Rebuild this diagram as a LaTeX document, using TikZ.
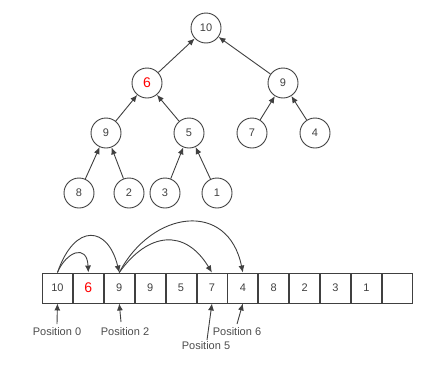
\documentclass[tikz,border=0pt]{standalone}
\usepackage{fontspec}
\setmainfont{Liberation Sans}
\usetikzlibrary{arrows.meta}
\begin{document}
\begin{tikzpicture}[x=1pt,y=-1pt,
  tn/.style={circle,draw=black!75,line width=0.9pt,minimum size=30pt,inner sep=0pt,font=\fontsize{11}{12}\selectfont,text=black!75},
  cell/.style={rectangle,draw=black!75,line width=0.9pt,minimum width=30pt,minimum height=30pt,inner sep=0pt,font=\fontsize{11}{12}\selectfont,text=black!75,anchor=west},
  ar/.style={draw=black!75,line width=0.9pt,-{Latex[length=7pt,width=6pt]}},
  lbl/.style={font=\fontsize{11}{12}\selectfont,text=black!70,inner sep=0pt}]
\useasboundingbox (0,0) rectangle (430,367);
% tree
\node[tn] (n10) at (206,28) {10};
\node[tn,text=red,font=\fontsize{14}{15}\selectfont] (n6) at (147,83) {6};
\node[tn] (n9r) at (283,83) {9};
\node[tn] (n9l) at (106,133) {9};
\node[tn] (n5) at (189,133) {5};
\node[tn] (n7) at (252,133) {7};
\node[tn] (n4) at (315,133) {4};
\node[tn] (n8) at (79,193) {8};
\node[tn] (n2) at (129,193) {2};
\node[tn] (n3) at (165,193) {3};
\node[tn] (n1) at (217,193) {1};
\draw[ar] (n6) -- (n10);
\draw[ar] (n9r) -- (n10);
\draw[ar] (n9l) -- (n6);
\draw[ar] (n5) -- (n6);
\draw[ar] (n7) -- (n9r);
\draw[ar] (n4) -- (n9r);
\draw[ar] (n8) -- (n9l);
\draw[ar] (n2) -- (n9l);
\draw[ar] (n3) -- (n5);
\draw[ar] (n1) -- (n5);
% array
\node[cell] (c0) at (42,288) {10};
\node[cell,text=red,font=\fontsize{14}{15}\selectfont] (c1) at (c0.east) {6};
\node[cell] (c2) at (c1.east) {9};
\node[cell] (c3) at (c2.east) {9};
\node[cell] (c4) at (c3.east) {5};
\node[cell] (c5) at (c4.east) {7};
\node[cell] (c6) at (c5.east) {4};
\node[cell] (c7) at (c6.east) {8};
\node[cell] (c8) at (c7.east) {2};
\node[cell] (c9) at (c8.east) {3};
\node[cell] (c10) at (c9.east) {1};
\node[cell] (c11) at (c10.east) {};
% arcs
\draw[ar] (c0.north) .. controls (66,252) and (87,243) .. (c1.north);
\draw[ar] (c0.north) .. controls (75,222) and (108,226) .. (c2.north);
\draw[ar] (c2.north) .. controls (148,232) and (185,228) .. (c5.north);
\draw[ar] (c2.north) .. controls (152,210) and (228,200) .. (c6.north);
% position labels
\node[lbl] (p0) at (57,332) {Position 0};
\node[lbl] (p2) at (125,332) {Position 2};
\node[lbl] (p6) at (237,332) {Position 6};
\node[lbl] (p5) at (206,346) {Position 5};
\coordinate (q0) at (57,324);
\coordinate (q2) at (121,322);
\coordinate (q6) at (237,324);
\coordinate (q5) at (207,340);
\draw[ar] (q0) -- (c0.south);
\draw[ar] (q2) -- (c2.south);
\draw[ar] (q6) -- (c6.south);
\draw[ar] (q5) -- (c5.south);
\end{tikzpicture}
\end{document}
